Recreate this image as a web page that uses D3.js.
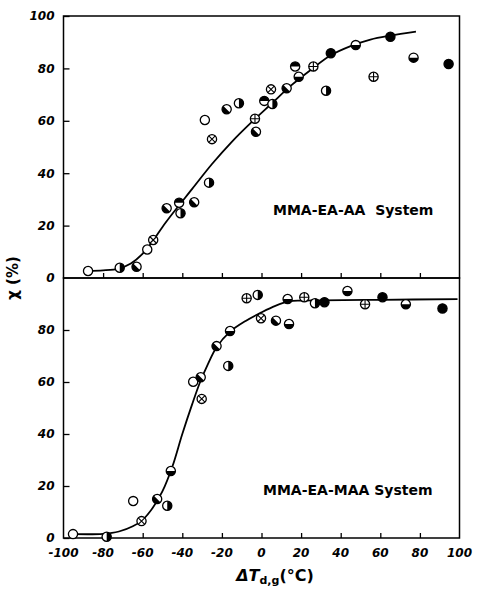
<!DOCTYPE html>
<html><head><meta charset="utf-8">
<script src="https://cdn.jsdelivr.net/npm/d3@7"></script>
<style>html,body{margin:0;padding:0;background:#fff;}svg{display:block;}</style>
</head><body>
<svg id="c" width="479" height="589"></svg>
<script>
// ---- data ----
const xTicks = [-100,-80,-60,-40,-20,0,20,40,60,80,100];
const yTicksTop = [0,20,40,60,80,100];
const yTicksBot = [0,20,40,60,80];
const topLabel = "MMA-EA-AA  System";
const botLabel = "MMA-EA-MAA System";

// marker kinds: o open, f filled, p plus-circle, x cross-circle, R right half, d diagonal half, t top half, b bottom half
const topX = [-87.6,-71.6,-63.1,-57.7,-54.7,-47.9,-41.6,-40.9,-34,-26.5,-28.6,-25,-17.6,-11.4,-3.3,-2.8,1.4,4.8,5.5,12.7,17,18.8,26.2,32.6,35,47.6,56.6,65.1,76.8,94.5];
const topY = [2.7,3.9,4.3,10.9,14.5,26.6,28.7,24.7,28.9,36.4,60.3,53,64.4,66.7,60.8,55.8,67.6,72,66.4,72.4,80.7,76.8,80.7,71.5,85.8,88.9,76.8,92.1,84.1,81.7];
const topKind = ["o","R","d","o","x","d","t","R","d","R","o","x","d","R","p","d","t","x","R","d","t","b","p","R","f","b","p","f","b","f"];

const botX = [-95.2,-78.2,-64.8,-60.6,-52.7,-47.6,-45.8,-34.5,-30.7,-30.2,-22.7,-15.9,-16.8,-7.5,-1.9,-0.25,7.3,13.9,13.2,21.6,27,31.8,43.4,52.3,61.1,72.9,91.4];
const botY = [1.5,0.5,14.2,6.5,15,12.4,25.8,60.1,61.8,53.5,73.8,79.6,66.2,92.2,93.5,84.5,83.6,82.3,91.9,92.6,90.3,90.7,95,89.9,92.6,89.9,88.3];
const botKind = ["o","R","o","x","d","R","b","o","d","x","d","b","R","p","R","x","d","b","b","p","R","f","b","p","f","b","f"];

const topCurveX = [-88,-80,-72,-66,-60,-55,-50,-45,-35,-25,-15,-5,5,15,25,35,45,55,65,78];
const topCurveY = [2.7,2.9,3.6,5.5,9.3,14,19.5,24.5,34,43.5,52,59.5,66.5,73.5,79.5,85,88.5,91,92.5,94];
const botCurveX = [-95,-80,-72,-65,-60,-55,-50,-45,-40,-35,-31,-27,-22.7,-16,-8,0,7,14,20,30,60,99];
const botCurveY = [1.5,1.6,2.5,4.5,7,11.5,18,27.5,40,51.5,60,67,73.4,79.3,83.5,86.8,89.3,91,91.3,91.4,91.6,91.9];

// ---- drawing ----
const svg = d3.select("#c");
const L = 63.5, R = 459.5, T = 16, M = 278, B = 538;
const x = d3.scaleLinear().domain([-100,100]).range([L,R]);
const yT = d3.scaleLinear().domain([0,100]).range([M,T]);
const yB = d3.scaleLinear().domain([0,100]).range([B,M]);
const FONT = "'DejaVu Sans', sans-serif";

function panel(y, yTicks){
  const g = svg.append("g");
  g.append("rect").attr("x",L).attr("y",y.range()[1]).attr("width",R-L).attr("height",y.range()[0]-y.range()[1])
    .attr("fill","none").attr("stroke","#000").attr("stroke-width",1.5);
  const ya = d3.axisRight(y).tickValues(yTicks).tickSize(6).tickFormat("");
  const gy = g.append("g").attr("transform",`translate(${L},0)`).call(ya);
  gy.select(".domain").remove();
  gy.selectAll("line").attr("stroke","#000").attr("stroke-width",1.3);
  const xa = d3.axisTop(x).tickValues(xTicks.slice(1,-1)).tickSize(5).tickFormat("");
  const gx = g.append("g").attr("transform",`translate(0,${y.range()[0]})`).call(xa);
  gx.select(".domain").remove();
  gx.selectAll("line").attr("stroke","#000").attr("stroke-width",1.3);
  g.selectAll("text.yl").data(yTicks).join("text").attr("class","yl")
    .attr("x",L-9).attr("y",d=>y(d)).attr("dy","0.36em").attr("text-anchor","end")
    .attr("font-family",FONT).attr("font-weight","bold").attr("font-style","italic").attr("font-size",12)
    .text(d=>d);
}
panel(yT, yTicksTop.slice(1));
panel(yB, yTicksBot);
svg.append("text").attr("x",L-9).attr("y",M).attr("dy","0.36em").attr("text-anchor","end")
  .attr("font-family",FONT).attr("font-weight","bold").attr("font-style","italic").attr("font-size",12).text(yTicksTop[0]);

svg.selectAll("text.xl").data(xTicks).join("text").attr("class","xl")
  .attr("x",d=>x(d)).attr("y",557).attr("text-anchor","middle")
  .attr("font-family",FONT).attr("font-weight","bold").attr("font-style","italic").attr("font-size",12)
  .text(d=>d);

const line = (ys) => d3.line().x(d=>x(d[0])).y(d=>ys(d[1])).curve(d3.curveCatmullRom.alpha(0.5));
svg.append("path").datum(d3.zip(topCurveX, topCurveY)).attr("d", line(yT)).attr("fill","none").attr("stroke","#000").attr("stroke-width",1.8);
svg.append("path").datum(d3.zip(botCurveX, botCurveY)).attr("d", line(yB)).attr("fill","none").attr("stroke","#000").attr("stroke-width",1.8);

const r = 4.6, a = r*Math.SQRT1_2;
function markers(xs, ys, kinds, yS){
  const data = xs.map((v,i)=>({x:v,y:ys[i],k:kinds[i]}));
  const g = svg.append("g").selectAll("g").data(data).join("g")
    .attr("transform",d=>`translate(${x(d.x)},${yS(d.y)})`);
  g.append("circle").attr("r",r).attr("fill",d=>d.k==="f"?"#000":"#fff").attr("stroke","#000").attr("stroke-width",1.3);
  g.filter(d=>"Rdtb".includes(d.k)).append("path").attr("fill","#000").attr("d",d=>{
    if(d.k==="R") return `M0,${-r}A${r},${r} 0 0 1 0,${r}Z`;
    if(d.k==="t") return `M${-r},0A${r},${r} 0 0 1 ${r},0Z`;
    if(d.k==="b") return `M${r},0A${r},${r} 0 0 1 ${-r},0Z`;
    return `M${-a},${-a}A${r},${r} 0 0 0 ${a},${a}Z`;
  });
  g.filter(d=>d.k==="p").append("path").attr("stroke","#000").attr("stroke-width",1.1)
    .attr("d",`M${-r},0H${r}M0,${-r}V${r}`);
  g.filter(d=>d.k==="x").append("path").attr("stroke","#000").attr("stroke-width",1.1)
    .attr("d",`M${-a},${-a}L${a},${a}M${-a},${a}L${a},${-a}`);
}
markers(topX, topY, topKind, yT);
markers(botX, botY, botKind, yB);

svg.append("text").attr("x",273).attr("y",215).attr("font-family",FONT).attr("font-weight","bold").attr("font-size",14)
  .style("white-space","pre").text(topLabel);
svg.append("text").attr("x",263).attr("y",495).attr("font-family",FONT).attr("font-weight","bold").attr("font-size",14)
  .style("white-space","pre").text(botLabel);

svg.append("text").attr("transform","translate(18,278) rotate(-90)").attr("text-anchor","middle")
  .attr("font-family",FONT).attr("font-weight","bold").attr("font-size",15).text("χ (%)");
const xt = svg.append("text").attr("x",275).attr("y",581).attr("text-anchor","middle")
  .attr("font-family",FONT).attr("font-weight","bold").attr("font-size",16);
xt.append("tspan").attr("font-style","italic").text("ΔT");
xt.append("tspan").attr("font-size",11).attr("dy",3).text("d,g");
xt.append("tspan").attr("dy",-3).text("(°C)");
</script>
</body></html>
